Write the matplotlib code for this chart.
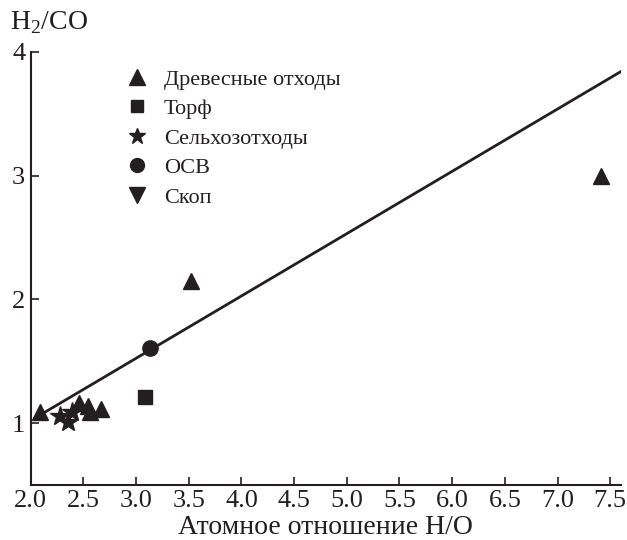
import matplotlib.pyplot as plt
from matplotlib.lines import Line2D

plt.rcParams['font.family'] = ['Liberation Serif', 'DejaVu Serif']
plt.rcParams['mathtext.fontset'] = 'custom'
plt.rcParams['mathtext.rm'] = 'Liberation Serif'

# data
wood_x = [2.09, 2.46, 2.54, 2.56, 2.67, 3.52, 7.41]
wood_y = [1.09, 1.16, 1.14, 1.09, 1.11, 2.15, 3.00]
peat_x = [3.08]
peat_y = [1.21]
agro_x = [2.28, 2.35, 2.39]
agro_y = [1.06, 1.01, 1.09]
sludge_x = [3.13]
sludge_y = [1.61]
fit_x = [2.04, 7.6]
fit_y = [1.04, 3.84]

labels = ["Древесные отходы", "Торф", "Сельхозотходы", "ОСВ", "Скоп"]
markers = ["^", "s", "*", "o", "v"]
xticks = [2.0, 2.5, 3.0, 3.5, 4.0, 4.5, 5.0, 5.5, 6.0, 6.5, 7.0, 7.5]

ink = "#231f20"

fig = plt.figure(figsize=(6.27, 5.4), dpi=100)
ax = fig.add_axes([0.049, 0.102, 0.941, 0.802])

ax.plot(fit_x, fit_y, color=ink, lw=2)
ax.plot(wood_x, wood_y, "^", color=ink, ms=12)
ax.plot(peat_x, peat_y, "s", color=ink, ms=10)
ax.plot(agro_x, agro_y, "*", color=ink, ms=15)
ax.plot(sludge_x, sludge_y, "o", color=ink, ms=11)

ax.set_xlim(2.0, 7.6)
ax.set_ylim(0.5, 4.0)
ax.set_xticks(xticks)
ax.set_xticklabels([f"{t:.1f}" for t in xticks])
ax.set_yticks([1, 2, 3, 4])
ax.tick_params(direction="in", length=6, width=1.2, labelsize=19, colors=ink, pad=4)
ax.spines["top"].set_visible(False)
ax.spines["right"].set_visible(False)
for s in ["left", "bottom"]:
    ax.spines[s].set_linewidth(1.5)
    ax.spines[s].set_color(ink)

ax.set_xlabel("Атомное отношение H/O", fontsize=20, color=ink, labelpad=2)
fig.text(0.016, 0.946, "H$_2$/CO", fontsize=20, color=ink)

# legend handles, a bit smaller than the data marks
leg_sizes = [11, 9, 12, 10, 11]
handles = [Line2D([], [], ls="", marker=m, color=ink, ms=s) for m, s in zip(markers, leg_sizes)]
ax.legend(handles, labels, loc="upper left", bbox_to_anchor=(0.128, 1.006), frameon=False,
          fontsize=16, handletextpad=0.7, labelspacing=0.4, handlelength=1.0,
          labelcolor=ink)

fig.savefig("out.png", dpi=100)
